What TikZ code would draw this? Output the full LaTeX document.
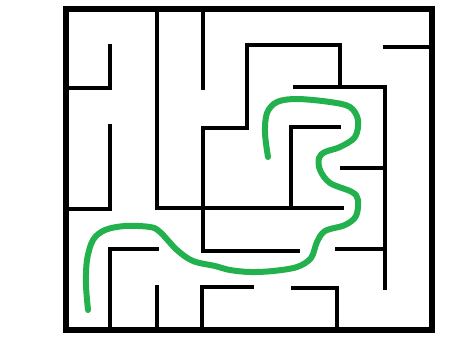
\documentclass[tikz,border=0pt]{standalone}
\usetikzlibrary{calc}
\definecolor{pathgreen}{RGB}{34,177,76}
\begin{document}
\begin{tikzpicture}[x=1pt,y=-1pt,
  wall/.style={line width=4pt,line cap=rect,line join=miter,black},
  outerwall/.style={line width=5.5pt,line join=miter,black},
  route/.style={line width=6pt,line cap=round,line join=round,pathgreen}]
\useasboundingbox (0,0) rectangle (455,341);
% outer frame
\draw[outerwall] (66,9) -- (432,9) -- (432,330) -- (66,330) -- cycle;
% inner walls
\draw[wall] (110,46) -- (110,88) -- (66,88);
\draw[wall] (110,126) -- (110,209) -- (66,209);
\draw[wall] (157,9) -- (157,208) -- (342,208);
\draw[wall] (203,9) -- (203,88);
\draw[wall] (247,45) -- (247,128) -- (203,128) -- (203,251) -- (298,251);
\draw[wall] (247,45) -- (340,45) -- (340,87);
\draw[wall] (295,87) -- (385,87) -- (385,288);
\draw[wall] (385,47) -- (432,47);
\draw[wall] (291,208) -- (291,127) -- (339,127);
\draw[wall] (342,168) -- (385,168);
\draw[wall] (337,249) -- (385,249);
\draw[wall] (110,330) -- (110,249) -- (157,249);
\draw[wall] (157,330) -- (157,287);
\draw[wall] (202,330) -- (202,287) -- (252,287);
\draw[wall] (293,288) -- (337,288) -- (337,330);
% solution path
\draw[route] plot[smooth,tension=0.55] coordinates {
  (88,310) (86,285) (87,260) (93,240) (105,230) (125,226) (150,227)
  (160,232) (177,250) (193,261) (215,266) (230,270) (250,272) (273,271)
  (297,267) (311,258) (317,242) (325,231) (345,225) (356,216) (358,200)
  (352,192) (330,183) (320,170) (319,158) (325,152) (340,147) (355,137)
  (358,120) (350,107) (330,102) (297,99) (277,102) (267,113) (265,133) (268,157)};
\end{tikzpicture}
\end{document}
